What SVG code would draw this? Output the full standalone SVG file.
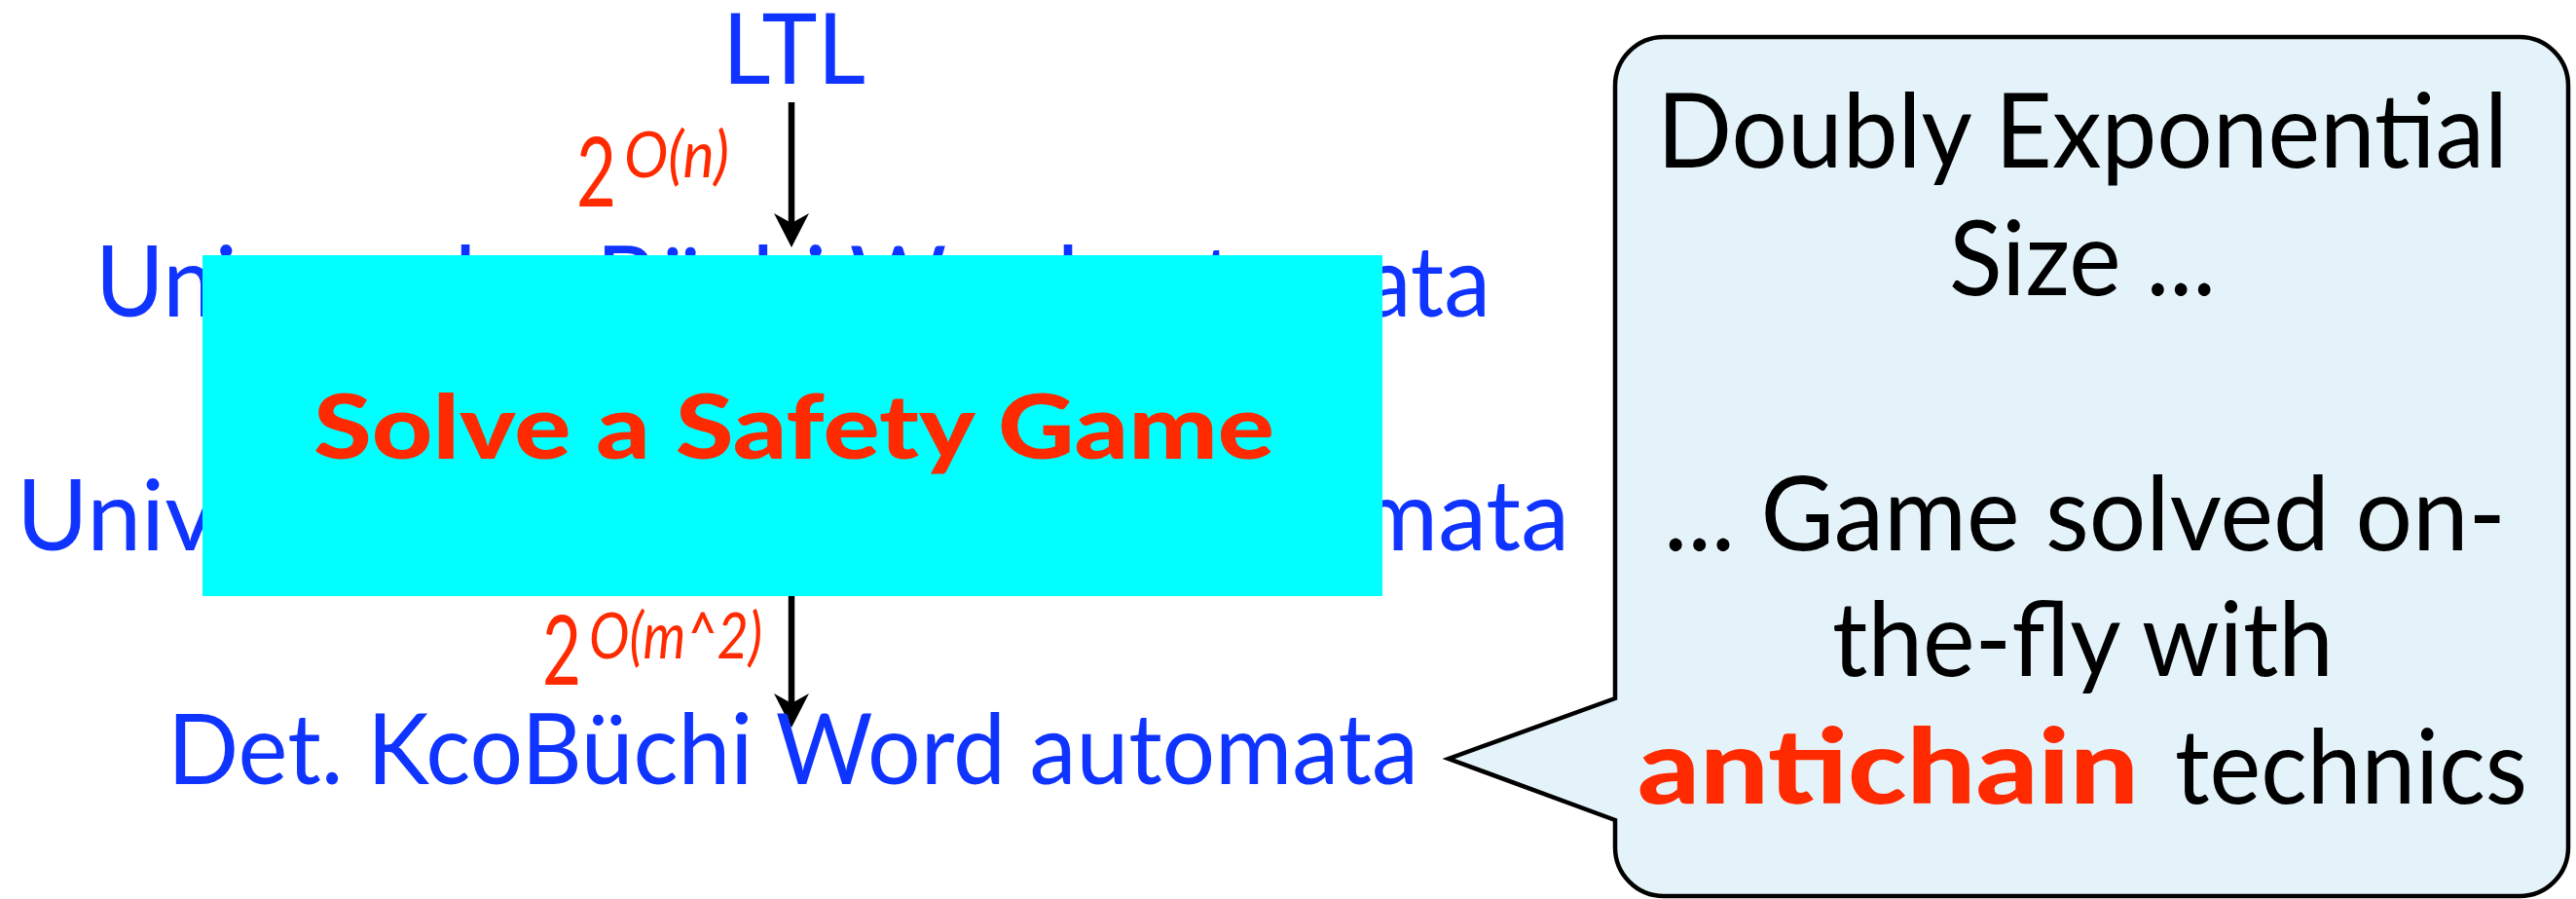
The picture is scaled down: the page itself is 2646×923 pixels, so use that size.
<svg xmlns="http://www.w3.org/2000/svg" width="2646" height="923" viewBox="0 0 2646 923">
  <style>
    .blue { fill: #1034FF; font-family: Lato, "Open Sans", "DejaVu Sans", sans-serif; font-size: 100px; }
    .red { fill: #FF2A00; font-family: Lato, "Open Sans", "DejaVu Sans", sans-serif; }
    .sup { font-style: italic; font-size: 66px; }
    .big { font-size: 98px; }
    .black { fill: #000000; font-family: Lato, "Open Sans", "DejaVu Sans", sans-serif; font-size: 107px; }
    .bold { font-weight: 900; }
    .edge { stroke: #000000; stroke-width: 6.5; fill: none; }
  </style>
  <defs>
    <marker id="arrow" markerUnits="userSpaceOnUse" markerWidth="36" markerHeight="36" viewBox="0 0 36 36" refX="25" refY="18" orient="auto">
      <path d="M0,0 L35,18 L0,36 L10,18 Z" fill="#000000"/>
    </marker>
  </defs>
  <rect width="2646" height="923" fill="#FFFFFF"/>

  <g id="connectors">
    <line class="edge" x1="813" y1="105" x2="813" y2="244" marker-end="url(#arrow)"/>
    <line class="edge" x1="813" y1="600" x2="813" y2="737" marker-end="url(#arrow)"/>
    <g id="label-1">
      <text class="red big" x="592" y="212" textLength="41" lengthAdjust="spacingAndGlyphs">2</text>
      <text class="red sup" x="641" y="182" textLength="108" lengthAdjust="spacingAndGlyphs">O(n)</text>
    </g>
    <g id="label-2">
      <text class="red big" x="557" y="703" textLength="40" lengthAdjust="spacingAndGlyphs">2</text>
      <text class="red sup" x="605" y="676" textLength="178" lengthAdjust="spacingAndGlyphs">O(m^2)</text>
    </g>
  </g>

  <g id="node-ltl">
    <text class="blue" x="742" y="86" textLength="147" lengthAdjust="spacingAndGlyphs">LTL</text>
  </g>
  <g id="node-ucw">
    <text class="blue" x="98" y="325" textLength="1433" lengthAdjust="spacingAndGlyphs">Universal coBüchi Word automata</text>
  </g>
  <g id="node-ukcw">
    <text class="blue" x="17" y="565" textLength="1595" lengthAdjust="spacingAndGlyphs">Universal K-coBüchi Word automata</text>
  </g>
  <g id="node-dkcw">
    <text class="blue" x="172" y="805" textLength="1285" lengthAdjust="spacingAndGlyphs">Det. KcoBüchi Word automata</text>
  </g>

  <g id="node-safety-game">
    <rect x="208" y="262" width="1212" height="350" fill="#00FFFF"/>
    <text class="red bold" x="322" y="471" font-size="92" textLength="987" lengthAdjust="spacingAndGlyphs">Solve a Safety Game</text>
  </g>

  <g id="node-callout">
    <path d="M1709,38 H2588 A50,50 0 0 1 2638,88 V870 A50,50 0 0 1 2588,920 H1709 A50,50 0 0 1 1659,870 V842 L1488,779 L1659,717 V88 A50,50 0 0 1 1709,38 Z" fill="#E4F3F9" stroke="#000000" stroke-width="4.5" stroke-linejoin="miter"/>
    <text class="black" x="1702" y="172" textLength="874" lengthAdjust="spacingAndGlyphs">Doubly Exponential</text>
    <text class="black" x="2002" y="303" textLength="274" lengthAdjust="spacingAndGlyphs">Size ...</text>
    <text class="black" x="1709" y="565" textLength="865" lengthAdjust="spacingAndGlyphs">... Game solved on-</text>
    <text class="black" x="1882" y="694" textLength="515" lengthAdjust="spacingAndGlyphs">the-fly with</text>
    <text class="red bold" x="1682" y="825" font-size="107" textLength="515" lengthAdjust="spacingAndGlyphs">antichain</text>
    <text class="black" x="2234" y="825" textLength="362" lengthAdjust="spacingAndGlyphs">technics</text>
  </g>
</svg>
